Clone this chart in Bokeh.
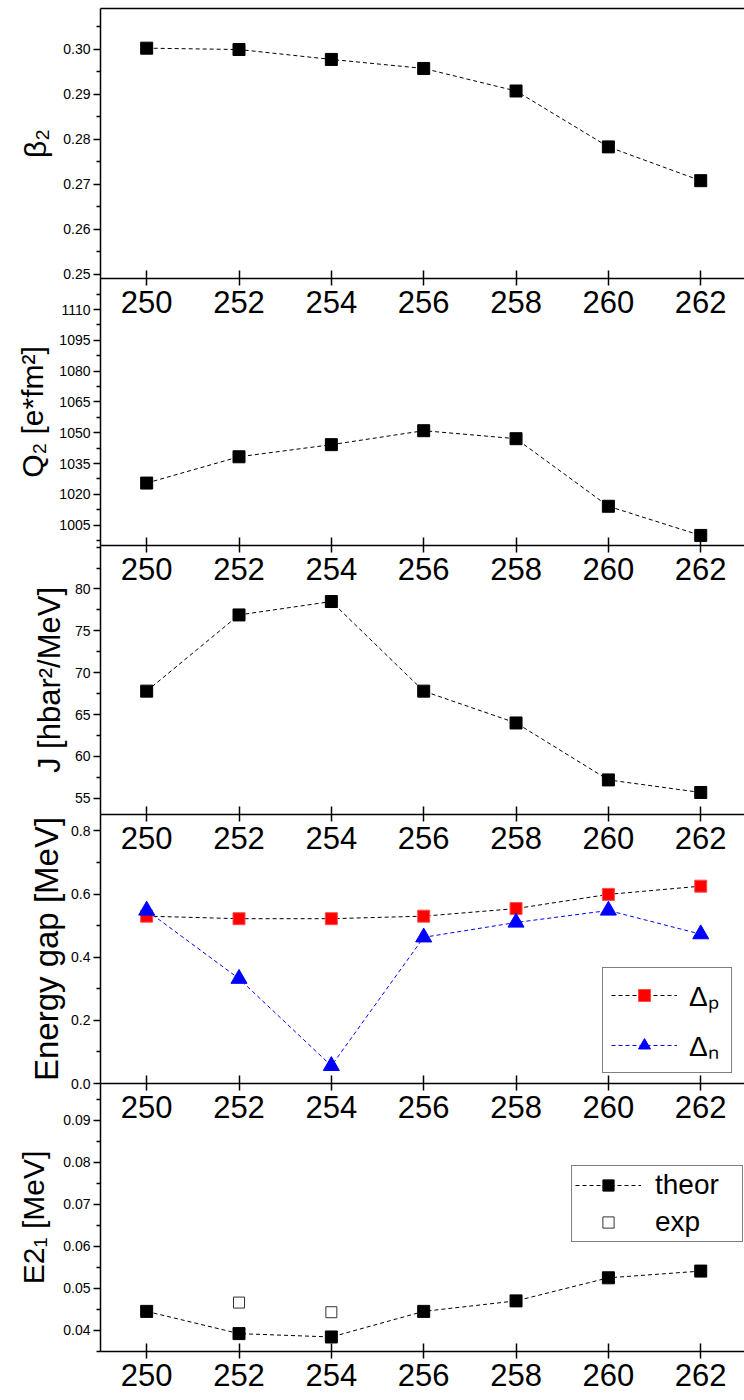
from bokeh.plotting import figure
from bokeh.models import Range1d, FixedTicker, LinearAxis, Legend, LegendItem, ColumnDataSource
from bokeh.layouts import column
from bokeh.embed import file_html
from bokeh.resources import INLINE

# ---------------- data ----------------
X = [250, 252, 254, 256, 258, 260, 262]
X_TICK_LABELS = ["250", "252", "254", "256", "258", "260", "262"]

BETA2 = [0.3002, 0.2999, 0.2977, 0.2957, 0.2907, 0.2783, 0.2708]
Q2 = [1025.5, 1038.3, 1044.2, 1051.0, 1047.1, 1014.2, 1000.0]
J_MOI = [67.8, 76.9, 78.5, 67.8, 64.0, 57.2, 55.7]
DELTA_P = [0.530, 0.522, 0.522, 0.530, 0.554, 0.599, 0.625]
DELTA_N = [0.548, 0.332, 0.056, 0.463, 0.510, 0.548, 0.473]
E21_THEOR = [0.0445, 0.0392, 0.0384, 0.0445, 0.0470, 0.0525, 0.0541]
E21_EXP_X = [252, 254]
E21_EXP = [0.0466, 0.0443]

# y ticks / labels per panel
P1_TICKS = [0.25, 0.26, 0.27, 0.28, 0.29, 0.30]
P1_LABELS = ["0.25", "0.26", "0.27", "0.28", "0.29", "0.30"]
P1_MINOR = [0.255, 0.265, 0.275, 0.285, 0.295, 0.305]

P2_TICKS = [1005, 1020, 1035, 1050, 1065, 1080, 1095, 1110]
P2_LABELS = ["1005", "1020", "1035", "1050", "1065", "1080", "1095", "1110"]
P2_MINOR = [997.5, 1012.5, 1027.5, 1042.5, 1057.5, 1072.5, 1087.5, 1102.5, 1117.5]

P3_TICKS = [55, 60, 65, 70, 75, 80]
P3_LABELS = ["55", "60", "65", "70", "75", "80"]
P3_MINOR = [57.5, 62.5, 67.5, 72.5, 77.5, 82.5, 85]

P4_TICKS = [0.0, 0.2, 0.4, 0.6, 0.8]
P4_LABELS = ["0.0", "0.2", "0.4", "0.6", "0.8"]
P4_MINOR = [0.1, 0.3, 0.5, 0.7]

P5_TICKS = [0.04, 0.05, 0.06, 0.07, 0.08, 0.09]
P5_LABELS = ["0.04", "0.05", "0.06", "0.07", "0.08", "0.09"]
P5_MINOR = [0.035, 0.045, 0.055, 0.065, 0.075, 0.085, 0.095]

# ---------------- layout / style ----------------
FONT = "Liberation Sans"
FRAME_W = 644
LEFT = 100
GAP = 50
X_START, X_END = 249.0, 262.948


def make_panel(h, yr, yticks, ylabels, yminor, ylabel, lab_standoff, lab_size="30px",
               first=False, last=False):
    p = figure(frame_width=FRAME_W, frame_height=h,
               x_range=Range1d(X_START, X_END), y_range=Range1d(*yr),
               output_backend="svg", toolbar_location=None,
               min_border_left=LEFT, min_border_right=0,
               min_border_top=(8 if first else 0),
               min_border_bottom=(49 if last else GAP),
               margin=(0 if first else -GAP, 0, 0, 0))
    p.outline_line_color = None
    p.xgrid.visible = False
    p.ygrid.visible = False
    p.background_fill_alpha = 0
    p.border_fill_alpha = 0

    xa = p.xaxis[0]
    xa.ticker = FixedTicker(ticks=X, minor_ticks=[])
    xa.major_label_overrides = dict(zip(X, X_TICK_LABELS))
    xa.major_tick_in = 8
    xa.major_tick_out = 7
    xa.minor_tick_in = 0
    xa.minor_tick_out = 0
    xa.axis_line_width = 1.5
    xa.axis_line_color = "black"
    xa.major_tick_line_width = 1.5
    xa.major_tick_line_color = "black"
    xa.major_label_text_font = FONT
    xa.major_label_text_font_size = "31px"
    xa.major_label_text_color = "black"
    xa.major_label_standoff = 5

    ya = p.yaxis[0]
    ya.ticker = FixedTicker(ticks=yticks, minor_ticks=yminor)
    ya.major_label_overrides = dict(zip(yticks, ylabels))
    ya.major_tick_in = 0
    ya.major_tick_out = 7
    ya.minor_tick_in = 0
    ya.minor_tick_out = 4
    ya.axis_line_width = 1.5
    ya.axis_line_color = "black"
    ya.major_tick_line_width = 1.5
    ya.major_tick_line_color = "black"
    ya.minor_tick_line_width = 1.5
    ya.minor_tick_line_color = "black"
    ya.major_label_text_font = FONT
    ya.major_label_text_font_size = "14px"
    ya.major_label_text_color = "black"
    ya.major_label_standoff = 3
    ya.axis_label = ylabel
    ya.axis_label_text_font = FONT
    ya.axis_label_text_font_size = lab_size
    ya.axis_label_text_font_style = "normal"
    ya.axis_label_text_color = "black"
    ya.axis_label_standoff = lab_standoff

    if first:
        top = LinearAxis(ticker=FixedTicker(ticks=[]), major_tick_in=0, major_tick_out=0,
                         minor_tick_in=0, minor_tick_out=0, axis_line_width=1.5,
                         axis_line_color="black",
                         major_label_text_font_size="0px", major_label_standoff=0)
        p.add_layout(top, "above")
    return p


DASH = "4 3"


def series(p, xs, ys, line_color, marker, size, fill, mline):
    src = ColumnDataSource(dict(x=xs, y=ys))
    l = p.line("x", "y", source=src, line_color=line_color, line_width=1, line_dash=DASH)
    s = p.scatter("x", "y", source=src, marker=marker, size=size,
                  fill_color=fill, line_color=mline, line_width=1)
    return l, s


def style_legend(leg, pad, spacing, standoff, label_width, glyph_h):
    leg.border_line_color = "black"
    leg.border_line_width = 1
    leg.background_fill_color = "white"
    leg.background_fill_alpha = 1
    leg.label_text_font = FONT
    leg.label_text_font_size = "28px"
    leg.label_text_color = "black"
    leg.glyph_width = 66
    leg.glyph_height = glyph_h
    leg.label_height = glyph_h
    leg.label_width = label_width
    leg.label_standoff = standoff
    leg.padding = pad
    leg.spacing = spacing
    leg.margin = 0


# Panel 1: beta2
p1 = make_panel(270, (0.2491, 0.3090), P1_TICKS, P1_LABELS, P1_MINOR, "β₂", 8, first=True)
series(p1, X, BETA2, "black", "square", 12, "black", "black")

# Panel 2: Q2
p2 = make_panel(267, (995.1, 1125.1), P2_TICKS, P2_LABELS, P2_MINOR, "Q₂ [e*fm²]", 7)
series(p2, X, Q2, "black", "square", 12, "black", "black")

# Panel 3: J
p3 = make_panel(269, (53.07, 85.19), P3_TICKS, P3_LABELS, P3_MINOR, "J [hbar²/MeV]", 5,
                lab_size="31px")
series(p3, X, J_MOI, "black", "square", 12, "black", "black")

# Panel 4: energy gap
p4 = make_panel(269, (0.0, 0.852), P4_TICKS, P4_LABELS, P4_MINOR, "Energy gap [MeV]", 3,
                lab_size="33px")
lp, sp = series(p4, X, DELTA_P, "black", "square", 12, "red", "#ff4d4d")
ln, sn = series(p4, X, DELTA_N, "blue", "triangle", 16, "blue", "blue")
leg4 = Legend(items=[LegendItem(label="Δₚ", renderers=[lp, sp]),
                     LegendItem(label="Δₙ", renderers=[ln, sn])],
              location=(502, 10))
style_legend(leg4, pad=8, spacing=12, standoff=12, label_width=34, glyph_h=30)
p4.add_layout(leg4)

# Panel 5: E2_1
p5 = make_panel(268, (0.03494, 0.0988), P5_TICKS, P5_LABELS, P5_MINOR, "E2₁ [MeV]", 10,
                last=True)
lt, st = series(p5, X, E21_THEOR, "black", "square", 12, "black", "black")
se = p5.scatter(E21_EXP_X, E21_EXP, marker="square", size=11, fill_color="white",
                line_color="#333333", line_width=1)
leg5 = Legend(items=[LegendItem(label="theor", renderers=[lt, st]),
                     LegendItem(label="exp", renderers=[se])],
              location=(471, 109))
style_legend(leg5, pad=3, spacing=5, standoff=14, label_width=84, glyph_h=28)
p5.add_layout(leg5)

layout = column(p1, p2, p3, p4, p5, spacing=0)

with open("out.html", "w") as f:
    f.write(file_html(layout, INLINE))
